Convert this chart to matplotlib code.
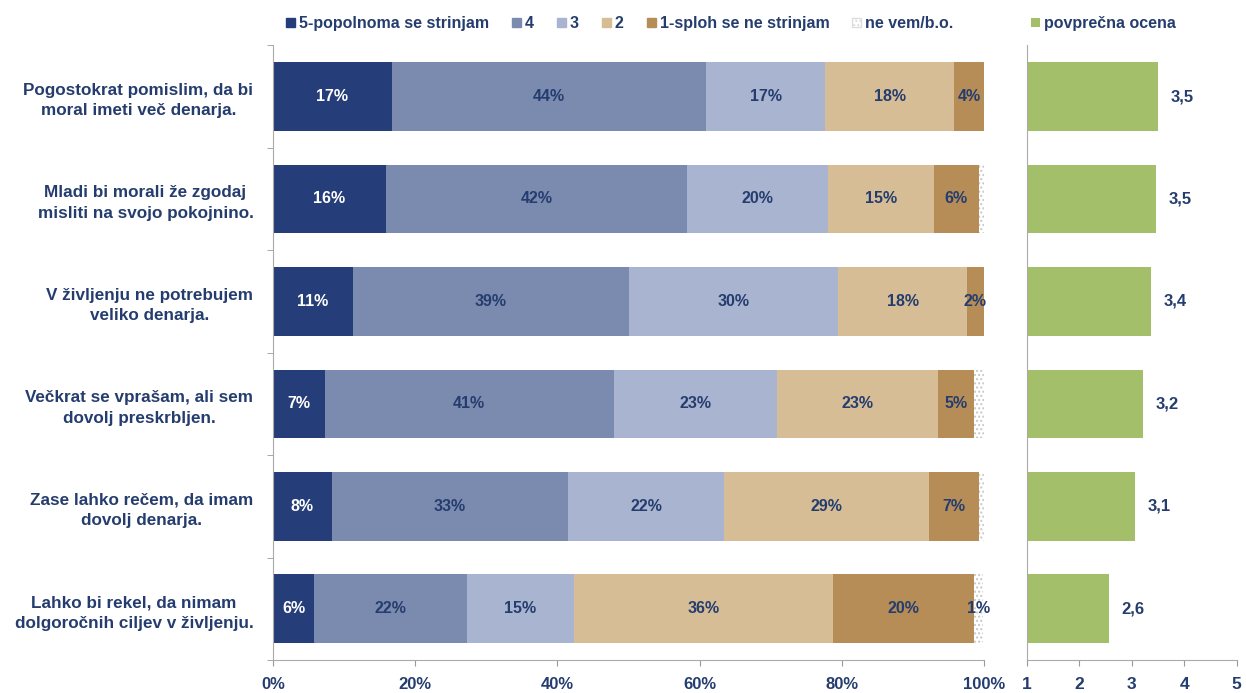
import matplotlib.pyplot as plt
import numpy as np
from matplotlib.patches import Patch

plt.rcParams['font.family'] = ['Liberation Sans', 'DejaVu Sans']
plt.rcParams['font.weight'] = 'bold'

statements = ["Pogostokrat pomislim, da bi\nmoral imeti več denarja.",
              "Mladi bi morali že zgodaj\nmisliti na svojo pokojnino.",
              "V življenju ne potrebujem\nveliko denarja.",
              "Večkrat se vprašam, ali sem\ndovolj preskrbljen.",
              "Zase lahko rečem, da imam\ndovolj denarja.",
              "Lahko bi rekel, da nimam\ndolgoročnih ciljev v življenju."]

# shares in % per answer
s5 = [16.7, 15.9, 11.3, 7.3, 8.3, 5.8]
s4 = [44.2, 42.3, 38.7, 40.6, 33.2, 21.5]
s3 = [16.7, 19.8, 29.5, 22.9, 21.9, 15.0]
s2 = [18.2, 14.9, 18.0, 22.7, 28.8, 36.4]
s1 = [4.2, 6.3, 2.4, 5.1, 7.0, 19.8]
dk = [0.0, 0.7, 0.1, 1.4, 0.7, 1.3]

avg = [3.50, 3.46, 3.36, 3.21, 3.06, 2.56]

names = ["5-popolnoma se strinjam", "4", "3", "2", "1-sploh se ne strinjam", "ne vem/b.o."]
colors = ["#253d78", "#7b8bb0", "#a9b4d0", "#d6bd96", "#b68d57", "#ffffff"]
navy = "#253d6e"

fig = plt.figure(figsize=(12.46, 6.93), dpi=100)
ax = fig.add_axes([0.219, 0.0476, 0.571, 0.887])
ax2 = fig.add_axes([0.824, 0.0476, 0.1685, 0.887])

y = np.arange(len(statements))
series = [s5, s4, s3, s2, s1, dk]
left = np.zeros(len(statements))
for i, vals in enumerate(series):
    vals = np.array(vals)
    if i == 5:
        ax.barh(y, vals, left=left, height=0.67, color="white", edgecolor="#c8c8c8",
                hatch="....", linewidth=0)
    else:
        ax.barh(y, vals, left=left, height=0.67, color=colors[i], linewidth=0)
    for j, v in enumerate(vals):
        if i < 5 and round(v) >= 1:
            ax.text(left[j] + v / 2, y[j], f"{round(v)}%", ha="center", va="center",
                    fontsize=11.5, color="white" if i == 0 else navy)
    left += vals
# "ne vem" share on last row is labelled next to the bar
ax.text(left[5] - dk[5] / 2, y[5], f"{round(dk[5])}%", ha="center", va="center",
        fontsize=11.5, color=navy)

ax.set_xlim(0, 100)
ax.set_ylim(len(statements) - 0.5, -0.5)
ax.set_xticks(np.arange(0, 101, 20))
ax.set_xticklabels([f"{t}%" for t in range(0, 101, 20)], fontsize=12, color=navy)
ax.set_yticks(y)
ax.set_yticklabels(statements, fontsize=12.3, color=navy, multialignment="center",
                   linespacing=1.45)
ax.set_yticks(np.arange(-0.5, len(statements)), minor=True)
ax.tick_params(axis="y", which="major", length=0, pad=14)
ax.tick_params(axis="y", which="minor", length=4, color="#999999")
ax.tick_params(axis="x", length=4, color="#999999", pad=8)
for sp in ["top", "right"]:
    ax.spines[sp].set_visible(False)
for sp in ["left", "bottom"]:
    ax.spines[sp].set_color("#aaaaaa")

ax2.barh(y, np.array(avg) - 1, left=1, height=0.67, color="#a4bf6a", linewidth=0)
for j, v in enumerate(avg):
    ax2.text(v + 0.25, y[j], f"{v:.1f}".replace(".", ","), ha="left", va="center",
             fontsize=12, color=navy)
ax2.set_xlim(1, 5)
ax2.set_ylim(len(statements) - 0.5, -0.5)
ax2.set_xticks([1, 2, 3, 4, 5])
ax2.set_xticklabels(["1", "2", "3", "4", "5"], fontsize=12.5, color=navy)
ax2.set_yticks([])
ax2.tick_params(axis="x", length=4, color="#999999", pad=8)
for sp in ["top", "right"]:
    ax2.spines[sp].set_visible(False)
for sp in ["left", "bottom"]:
    ax2.spines[sp].set_color("#aaaaaa")

handles = [Patch(facecolor=c, edgecolor="#dddddd" if k == 5 else c, hatch="...." if k == 5 else None)
           for k, c in enumerate(colors)]
fig.legend(handles, names, loc="center left", bbox_to_anchor=(0.218, 0.966), ncol=6,
           frameon=False, fontsize=11.5, labelcolor=navy, handlelength=0.55, handleheight=0.55,
           handletextpad=0.25, columnspacing=1.45)
fig.legend([Patch(facecolor="#a4bf6a")], ["povprečna ocena"], loc="center left",
           bbox_to_anchor=(0.816, 0.966), frameon=False, fontsize=11.5, labelcolor=navy,
           handlelength=0.55, handleheight=0.55, handletextpad=0.25)

fig.savefig("out.png", dpi=100)
